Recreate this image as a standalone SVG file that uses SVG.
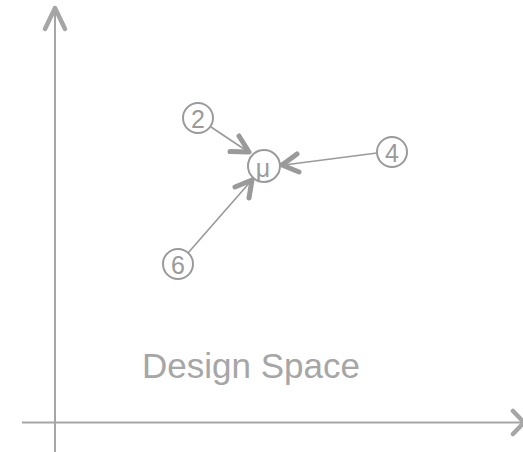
<svg xmlns="http://www.w3.org/2000/svg" width="523" height="452" viewBox="0 0 523 452">
<style>
.ax{stroke:#a6a6a6;stroke-width:2;fill:none}
.ah{stroke:#a6a6a6;stroke-width:4.5;fill:none;stroke-linecap:round;stroke-linejoin:round}
.ln{stroke:#9a9a9a;stroke-width:1.6;fill:none}
.hd{stroke:#9a9a9a;stroke-width:5;fill:none;stroke-linecap:round;stroke-linejoin:round}
.nd{stroke:#9a9a9a;stroke-width:2;fill:#fff}
.t{font-family:"Liberation Sans",Arial,sans-serif;fill:#9a9a9a;text-anchor:middle}
</style>
<rect width="523" height="452" fill="#fff"/>
<g id="axes">
<line class="ax" x1="55" y1="9" x2="55" y2="452"/>
<polyline class="ah" points="45,29 55,8 65,29"/>
<line class="ax" x1="22" y1="422.5" x2="521" y2="422.5"/>
<polyline class="ah" points="513,411 524,422.5 513,434"/>
</g>
<g id="connectors">
<line class="ln" x1="211" y1="127" x2="247" y2="151"/>
<polyline class="hd" points="239,136 249,152 230,151.5"/>
<line class="ln" x1="377" y1="153" x2="284" y2="165"/>
<polyline class="hd" points="297,154 282,165 299,172"/>
<line class="ln" x1="188" y1="253" x2="251" y2="181"/>
<polyline class="hd" points="235,187 252,180 249,198"/>
</g>
<g id="node-mu">
<circle class="nd" cx="264" cy="166" r="16"/>
<text class="t" x="263" y="177" font-size="25">μ</text>
</g>
<g id="node-2">
<circle class="nd" cx="198" cy="118" r="15"/>
<text class="t" x="198" y="128" font-size="25">2</text>
</g>
<g id="node-4">
<circle class="nd" cx="392" cy="152" r="15"/>
<text class="t" x="392" y="162" font-size="25">4</text>
</g>
<g id="node-6">
<circle class="nd" cx="178" cy="264" r="15"/>
<text class="t" x="178" y="274" font-size="25">6</text>
</g>
<text class="t" x="251" y="378" font-size="35" style="fill:#a6a6a6">Design Space</text>
</svg>
